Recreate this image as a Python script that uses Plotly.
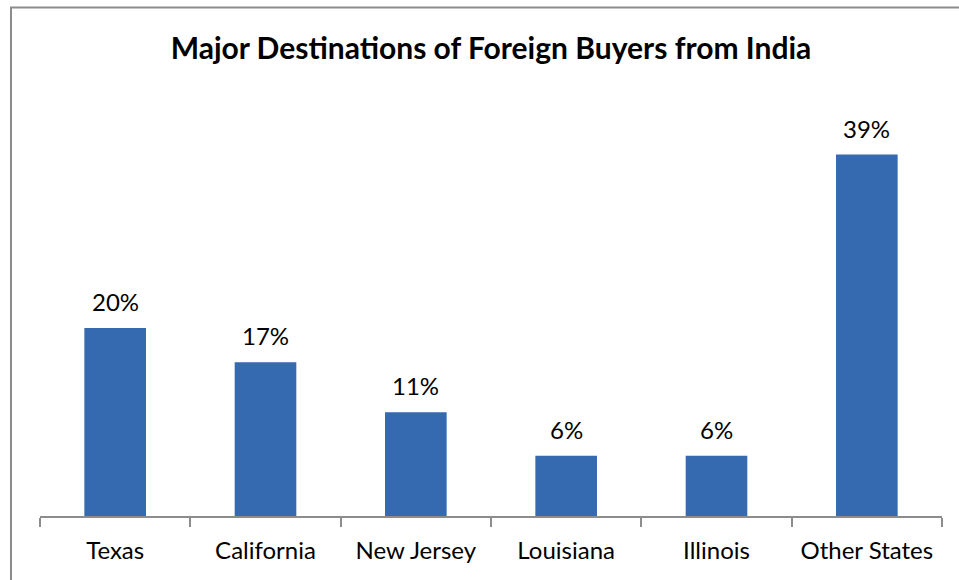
import plotly.graph_objects as go

categories = ["Texas", "California", "New Jersey", "Louisiana", "Illinois", "Other States"]
values = [20.3, 16.6, 11.2, 6.5, 6.5, 39.0]
labels = ["20%", "17%", "11%", "6%", "6%", "39%"]

fig = go.Figure()
fig.add_trace(go.Bar(
    x=categories, y=values,
    marker=dict(color="#3569B0", line=dict(width=0)),
    hoverinfo="skip",
))

for c, v, t in zip(categories, values, labels):
    fig.add_annotation(x=c, y=v, text=t, showarrow=False, yanchor="bottom",
                       yshift=10, font=dict(family="Lato", size=24, color="#000000"))

fig.add_shape(type="rect", xref="paper", yref="paper",
              x0=-29/902, x1=1.2, y0=-0.3, y1=(516 - 7.5) / 417,
              line=dict(color="#8C8C8C", width=2), fillcolor="rgba(0,0,0,0)")

fig.update_layout(
    width=959, height=580,
    margin=dict(l=40, r=17, t=99, b=64),
    paper_bgcolor="white", plot_bgcolor="white",
    bargap=0.59,
    showlegend=False,
    title=dict(text="<b>Major Destinations of Foreign Buyers from India</b>",
               x=491 / 959, xanchor="center", y=1 - 48 / 580, yanchor="middle",
               font=dict(family="Lato", size=30, color="#000000")),
    font=dict(family="Lato", size=24, color="#000000"),
)
fig.update_xaxes(showline=True, linecolor="#8C8C8C", linewidth=2,
                 ticks="outside", tickson="boundaries", ticklen=9,
                 tickcolor="#8C8C8C", tickwidth=2,
                 ticklabelstandoff=12,
                 tickfont=dict(family="Lato", size=24, color="#000000"),
                 showgrid=False, zeroline=False)
fig.update_yaxes(range=[0, 45], visible=False, showgrid=False, zeroline=False)

fig.write_html("out.html", config={"displayModeBar": False},
               post_script="document.body.style.margin='0';document.body.style.overflow='hidden';")
